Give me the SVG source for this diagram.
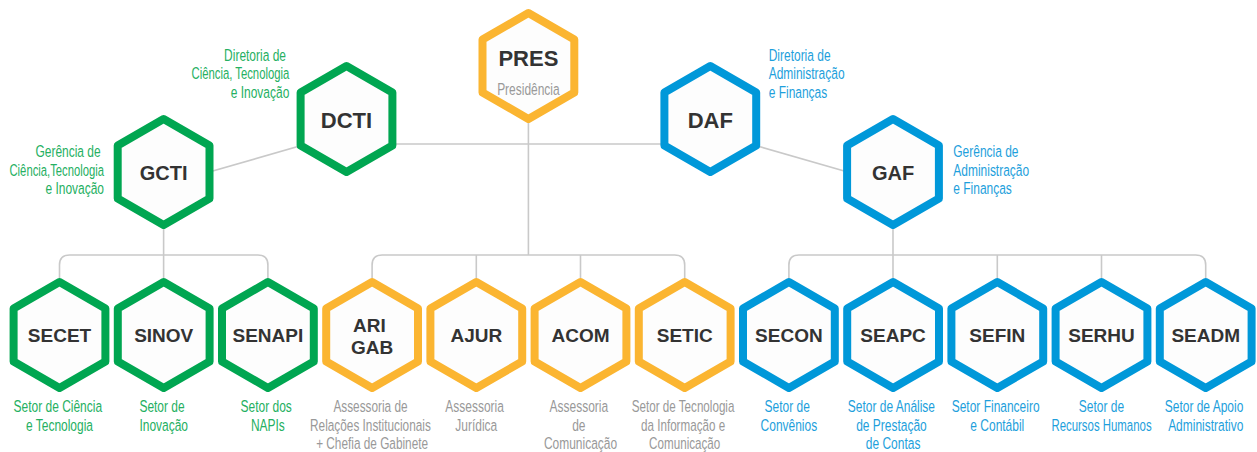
<svg xmlns="http://www.w3.org/2000/svg" width="1257" height="452" viewBox="0 0 1257 452">
  <style>
    .bg { fill: #ffffff; }
    .hex { fill: #fdfdfd; stroke-width: 8; stroke-linejoin: round; }
    .hg { stroke: #00a651; }
    .hy { stroke: #fbb531; }
    .hb { stroke: #0098d9; }
    .link { fill: none; stroke: #c9c9c9; stroke-width: 1.6; }
    .code { font-family: "Liberation Sans", Arial, sans-serif; font-weight: bold; fill: #333333; text-anchor: middle; }
    .lbl { font-family: "Liberation Sans", Arial, sans-serif; font-size: 17px; }
    .tg { fill: #25b062; }
    .tb { fill: #1e9fdc; }
    .tn { fill: #999999; }
    .mid { text-anchor: middle; }
    .end { text-anchor: end; }
    .start { text-anchor: start; }
  </style>
  <defs>
    <!-- pointy-top hexagon, centred on the origin -->
    <path id="hex" d="M0,-53 L45.9,-26.5 L45.9,26.5 L0,53 L-45.9,26.5 L-45.9,-26.5 Z"/>
  </defs>

  <rect class="bg" x="0" y="0" width="1257" height="452"/>

  <g id="connectors">
    <path class="link" d="M346.5,144 H710.3"/>
    <path class="link" d="M528.4,66 V255"/>
    <path class="link" d="M330,137.2 L190,177.6"/>
    <path class="link" d="M726.8,137.2 L866.8,177.6"/>
    <!-- green branch -->
    <path class="link" d="M163.6,172 V300"/>
    <path class="link" d="M59.5,300 V265 Q59.5,255 69.5,255 H257.9 Q267.9,255 267.9,265 V300"/>
    <!-- yellow branch -->
    <path class="link" d="M372.1,300 V265 Q372.1,255 382.1,255 H674.7 Q684.7,255 684.7,265 V300"/>
    <path class="link" d="M476.3,255 V300 M580.5,255 V300"/>
    <!-- blue branch -->
    <path class="link" d="M893,172 V300"/>
    <path class="link" d="M788.9,300 V265 Q788.9,255 798.9,255 H1195.7 Q1205.7,255 1205.7,265 V300"/>
    <path class="link" d="M997.3,255 V300 M1101.5,255 V300"/>
  </g>

  <!-- top level -->
  <g id="PRES">
    <use href="#hex" class="hex hy" x="528.4" y="66"/>
    <text class="code" x="528.4" y="65.7" font-size="22">PRES</text>
    <text class="lbl tn mid" transform="translate(528.4,0) scale(0.705,1)" x="0" y="95.5">Presidência</text>
  </g>

  <g id="DCTI">
    <use href="#hex" class="hex hg" x="346.5" y="119"/>
    <text class="code" x="346.5" y="127.8" font-size="22">DCTI</text>
    <text class="lbl tg end" transform="translate(289.3,0) scale(0.705,1)">
      <tspan x="0" y="61">Diretoria de</tspan>
      <tspan x="0" y="98">e Inovação</tspan>
    </text>
    <text class="lbl tg end" transform="translate(289.3,0) scale(0.665,1)" x="0" y="79.5">Ciência, Tecnologia</text>
  </g>

  <g id="DAF">
    <use href="#hex" class="hex hb" x="710.3" y="119"/>
    <text class="code" x="710.3" y="127.8" font-size="22">DAF</text>
    <text class="lbl tb start" transform="translate(768.7,0) scale(0.705,1)">
      <tspan x="0" y="61">Diretoria de</tspan>
      <tspan x="0" y="79.5">Administração</tspan>
      <tspan x="0" y="98">e Finanças</tspan>
    </text>
  </g>

  <g id="GCTI">
    <use href="#hex" class="hex hg" x="163.6" y="172"/>
    <text class="code" x="163.6" y="179.5" font-size="20">GCTI</text>
    <text class="lbl tg end" transform="translate(104,0) scale(0.705,1)">
      <tspan x="0" y="157.5">Gerência de</tspan>
      <tspan x="0" y="194.5">e Inovação</tspan>
    </text>
    <text class="lbl tg end" transform="translate(104,0) scale(0.663,1)" x="0" y="176">Ciência,Tecnologia</text>
  </g>

  <g id="GAF">
    <use href="#hex" class="hex hb" x="893" y="172"/>
    <text class="code" x="893" y="179.5" font-size="20">GAF</text>
    <text class="lbl tb start" transform="translate(953.3,0) scale(0.705,1)">
      <tspan x="0" y="157.5">Gerência de</tspan>
      <tspan x="0" y="176">Administração</tspan>
      <tspan x="0" y="194.5">e Finanças</tspan>
    </text>
  </g>

  <!-- sector row -->
  <g id="SECET">
    <use href="#hex" class="hex hg" x="59.5" y="335"/>
    <text class="code" x="59.5" y="342" font-size="19">SECET</text>
    <text class="lbl tg mid" transform="translate(59.5,0) scale(0.705,1)">
      <tspan x="0" y="412.5">Setor de Ciência</tspan>
      <tspan x="0" y="431">e Tecnologia</tspan>
    </text>
  </g>

  <g id="SINOV">
    <use href="#hex" class="hex hg" x="163.7" y="335"/>
    <text class="code" x="163.7" y="342" font-size="19">SINOV</text>
    <text class="lbl tg mid" transform="translate(163.7,0) scale(0.705,1)">
      <tspan x="0" y="412.5">Setor de</tspan>
      <tspan x="0" y="431">Inovação</tspan>
    </text>
  </g>

  <g id="SENAPI">
    <use href="#hex" class="hex hg" x="267.9" y="335"/>
    <text class="code" x="267.9" y="342" font-size="19">SENAPI</text>
    <text class="lbl tg mid" transform="translate(267.9,0) scale(0.705,1)">
      <tspan x="0" y="412.5">Setor dos</tspan>
      <tspan x="0" y="431">NAPIs</tspan>
    </text>
  </g>

  <g id="ARI-GAB">
    <use href="#hex" class="hex hy" x="372.1" y="335"/>
    <text class="code" font-size="19">
      <tspan x="372.1" y="332.3">ARI</tspan>
      <tspan x="372.1" y="353.7">GAB</tspan>
    </text>
    <text class="lbl tn mid" transform="translate(372.1,0) scale(0.695,1)">
      <tspan x="0" y="412.5">Assessoria de</tspan>
      <tspan x="0" y="431">Relações Institucionais</tspan>
      <tspan x="0" y="449.5">+ Chefia de Gabinete</tspan>
    </text>
  </g>

  <g id="AJUR">
    <use href="#hex" class="hex hy" x="476.3" y="335"/>
    <text class="code" x="476.3" y="342" font-size="19">AJUR</text>
    <text class="lbl tn mid" transform="translate(476.3,0) scale(0.705,1)">
      <tspan x="0" y="412.5">Assessoria</tspan>
      <tspan x="0" y="431">Jurídica</tspan>
    </text>
  </g>

  <g id="ACOM">
    <use href="#hex" class="hex hy" x="580.5" y="335"/>
    <text class="code" x="580.5" y="342" font-size="19">ACOM</text>
    <text class="lbl tn mid" transform="translate(580.5,0) scale(0.705,1)">
      <tspan x="0" y="412.5">Assessoria</tspan>
      <tspan x="0" y="431">de</tspan>
      <tspan x="0" y="449.5">Comunicação</tspan>
    </text>
  </g>

  <g id="SETIC">
    <use href="#hex" class="hex hy" x="684.7" y="335"/>
    <text class="code" x="684.7" y="342" font-size="19">SETIC</text>
    <text class="lbl tn mid" transform="translate(684.7,0) scale(0.685,1)">
      <tspan x="0" y="412.5">Setor de Tecnologia</tspan>
      <tspan x="0" y="431">da Informação e</tspan>
      <tspan x="0" y="449.5">Comunicação</tspan>
    </text>
  </g>

  <g id="SECON">
    <use href="#hex" class="hex hb" x="788.9" y="335"/>
    <text class="code" x="788.9" y="342" font-size="19">SECON</text>
    <text class="lbl tb mid" transform="translate(788.9,0) scale(0.705,1)">
      <tspan x="0" y="412.5">Setor de</tspan>
      <tspan x="0" y="431">Convênios</tspan>
    </text>
  </g>

  <g id="SEAPC">
    <use href="#hex" class="hex hb" x="893.1" y="335"/>
    <text class="code" x="893.1" y="342" font-size="19">SEAPC</text>
    <text class="lbl tb mid" transform="translate(893.1,0) scale(0.705,1)">
      <tspan x="0" y="412.5">Setor de Análise</tspan>
      <tspan x="0" y="431">de Prestação</tspan>
      <tspan x="0" y="449.5">de Contas</tspan>
    </text>
  </g>

  <g id="SEFIN">
    <use href="#hex" class="hex hb" x="997.3" y="335"/>
    <text class="code" x="997.3" y="342" font-size="19">SEFIN</text>
    <text class="lbl tb mid" transform="translate(997.3,0) scale(0.705,1)">
      <tspan x="0" y="412.5">Setor Financeiro</tspan>
      <tspan x="0" y="431">e Contábil</tspan>
    </text>
  </g>

  <g id="SERHU">
    <use href="#hex" class="hex hb" x="1101.5" y="335"/>
    <text class="code" x="1101.5" y="342" font-size="19">SERHU</text>
    <text class="lbl tb mid" transform="translate(1101.5,0) scale(0.705,1)" x="0" y="412.5">Setor de</text>
    <text class="lbl tb mid" transform="translate(1101.5,0) scale(0.672,1)" x="0" y="431">Recursos Humanos</text>
  </g>

  <g id="SEADM">
    <use href="#hex" class="hex hb" x="1205.7" y="335"/>
    <text class="code" x="1205.7" y="342" font-size="19">SEADM</text>
    <text class="lbl tb mid" transform="translate(1205.7,0) scale(0.705,1)">
      <tspan x="0" y="412.5">Setor de Apoio</tspan>
      <tspan x="0" y="431">Administrativo</tspan>
    </text>
  </g>
</svg>
